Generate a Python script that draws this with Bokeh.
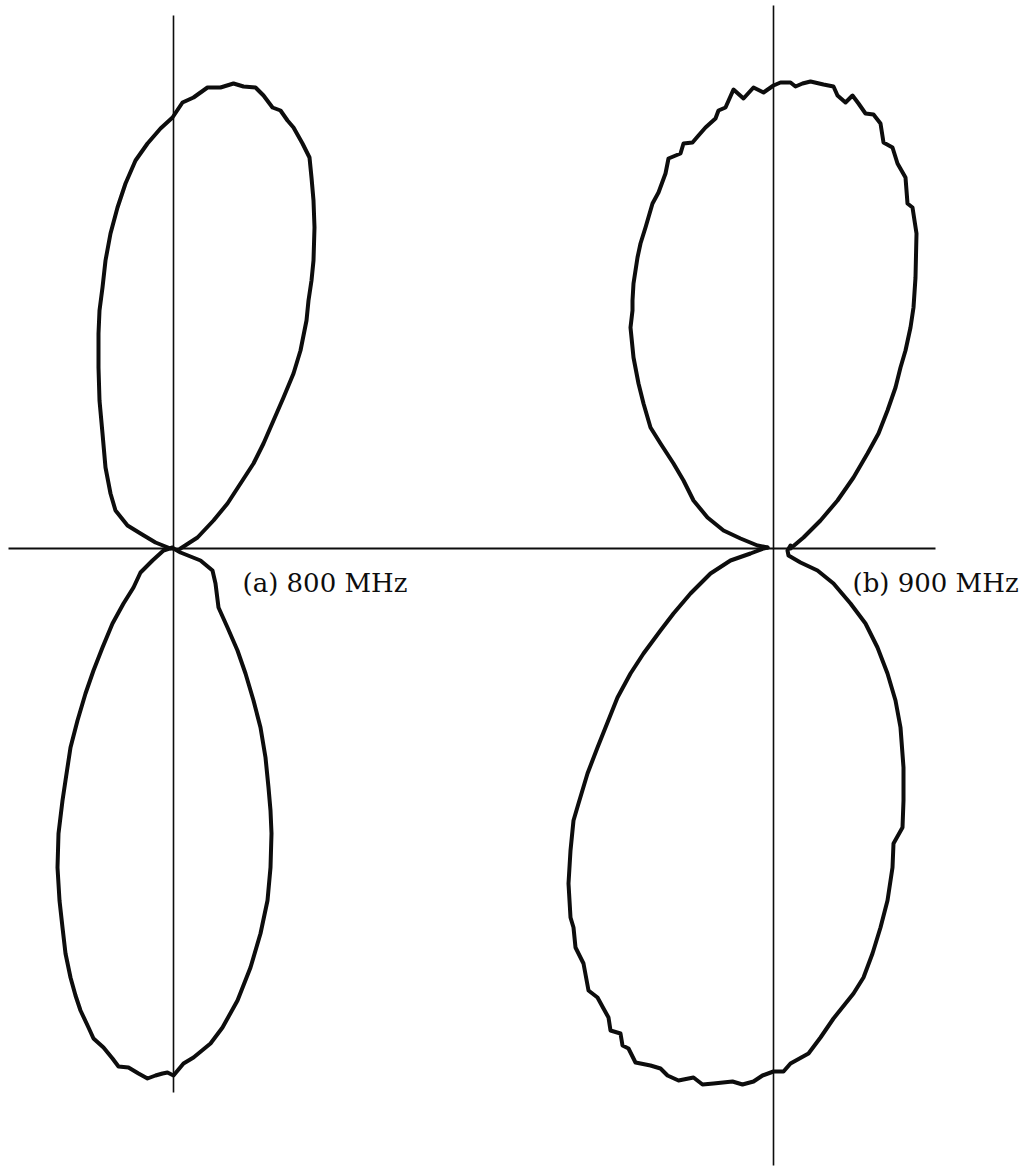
from bokeh.plotting import figure
from bokeh.models import Range1d, Label
from bokeh.embed import file_html
from bokeh.resources import INLINE

# Measured radiation patterns, Cartesian form (relative field, y up),
# each lobe traced from the origin of its own pattern.

# (a) 800 MHz
a_upper_x = [7, 24, 40, 54, 67, 80, 90, 100, 110, 120, 127, 133, 135, 138, 140, 141, 140, 138,
             136, 129, 120, 114, 107, 99, 90, 82, 70, 60, 47, 34, 20, 9, -1, -13, -26, -38,
             -48, -56, -63, -68, -71, -74, -75, -75, -74, -71, -68, -63, -58, -46, -33, -18, -3, 0]
a_upper_y = [0, 11, 28, 45, 65, 85, 105, 128, 151, 175, 198, 228, 248, 268, 288, 321, 348, 371,
             391, 405, 421, 428, 438, 441, 453, 461, 462, 465, 461, 461, 451, 446, 431, 420, 405, 388,
             365, 341, 315, 288, 261, 238, 215, 181, 148, 115, 81, 55, 38, 23, 15, 6, 0, 0]

a_lower_x = [0, 7, 27, 39, 42, 45, 54, 64, 72, 80, 87, 92, 95, 97, 98, 97, 94, 87, 77, 64, 49,
             37, 20, 10, 0, -6, -11, -18, -26, -35, -45, -55, -61, -70, -80, -85, -93, -98, -103,
             -108, -111, -114, -116, -115, -111, -108, -103, -96, -88, -80, -71, -61, -50, -40,
             -33, -21, -10, -1]
a_lower_y = [0, -4, -12, -22, -35, -59, -79, -102, -125, -152, -179, -209, -239, -262, -285, -319,
             -352, -385, -419, -452, -479, -495, -509, -515, -527, -524, -525, -527, -530, -525,
             -519, -518, -510, -499, -490, -479, -462, -447, -429, -405, -379, -352, -319, -285,
             -252, -232, -199, -172, -145, -122, -99, -75, -55, -39, -24, -12, -2, 1]

# (b) 900 MHz
b_upper_x = [17, 30, 47, 64, 80, 94, 105, 114, 122, 127, 132, 137, 140, 142, 143, 139, 134, 132,
             124, 119, 110, 107, 100, 92, 85, 79, 72, 64, 60, 50, 37, 29, 22, 17, 7, 0, -10, -20,
             -30, -40, -48, -55, -58, -68, -75, -81, -90, -93, -105, -108, -115, -121, -128, -133,
             -136, -140, -141, -141, -143, -140, -135, -130, -123, -113, -100, -90, -80, -66, -50,
             -33, -16, -6]
b_upper_y = [0, 11, 28, 48, 71, 95, 115, 138, 161, 181, 198, 221, 241, 271, 315, 341, 345, 371,
             385, 401, 406, 425, 434, 435, 445, 453, 446, 453, 462, 464, 467, 465, 462, 466, 466,
             463, 456, 461, 450, 459, 441, 438, 430, 421, 413, 406, 405, 395, 390, 375, 356, 345,
             321, 305, 291, 265, 248, 238, 221, 191, 165, 145, 121, 105, 85, 68, 48, 31, 18, 10, 3, 1]

b_lower_x = [-6, -10, -23, -43, -63, -83, -100, -113, -130, -143, -156, -166, -176, -186, -195,
             -200, -203, -205, -203, -200, -198, -190, -185, -176, -170, -165, -163, -153, -151,
             -145, -138, -123, -113, -106, -95, -80, -71, -60, -41, -31, -20, -11, 0, 10, 17, 35,
             47, 60, 80, 90, 99, 107, 114, 119, 120, 129, 130, 130, 127, 122, 114, 104, 92, 77,
             60, 44, 27, 15, 14, 17]
b_lower_y = [1, 0, -5, -12, -25, -45, -65, -82, -105, -125, -149, -174, -199, -225, -255, -272,
             -302, -335, -369, -379, -399, -415, -442, -449, -460, -469, -482, -485, -497, -500,
             -514, -517, -520, -527, -532, -529, -536, -535, -533, -536, -533, -527, -523, -523,
             -515, -505, -489, -470, -445, -429, -405, -379, -352, -319, -295, -279, -252, -219,
             -179, -152, -125, -99, -75, -55, -35, -22, -14, -7, -2, 3]

labels = ["(a) 800 MHz", "(b) 900 MHz"]

B_SHIFT = 600  # horizontal distance between the two pattern origins

p = figure(width=1031, height=1175, output_backend="svg", toolbar_location=None,
           x_range=Range1d(-173, 858), y_range=Range1d(-627, 548),
           min_border=0, background_fill_color="white", border_fill_color="white")
p.outline_line_color = None
p.xgrid.visible = False
p.ygrid.visible = False
p.xaxis.visible = False
p.yaxis.visible = False

ink = "#0d0d0d"

# reference axes
p.line([-165, 762], [0, 0], line_color=ink, line_width=2.0)
p.line([0, 0], [533, -544], line_color=ink, line_width=1.6)
p.line([B_SHIFT, B_SHIFT], [543, -617], line_color=ink, line_width=1.6)

curve_style = dict(line_color=ink, line_width=4.0, line_join="round", line_cap="round")

p.line(a_upper_x, a_upper_y, **curve_style)
p.line(a_lower_x, a_lower_y, **curve_style)
p.line([x + B_SHIFT for x in b_upper_x], b_upper_y, **curve_style)
p.line([x + B_SHIFT for x in b_lower_x], b_lower_y, **curve_style)

for lx, text in zip([69, 79 + B_SHIFT], labels):
    p.add_layout(Label(x=lx, y=-34, text=text, text_font="DejaVu Serif",
                       text_font_size="26px", text_color=ink,
                       text_baseline="alphabetic", text_align="left"))

open("out.html", "w").write(file_html(p, INLINE))
